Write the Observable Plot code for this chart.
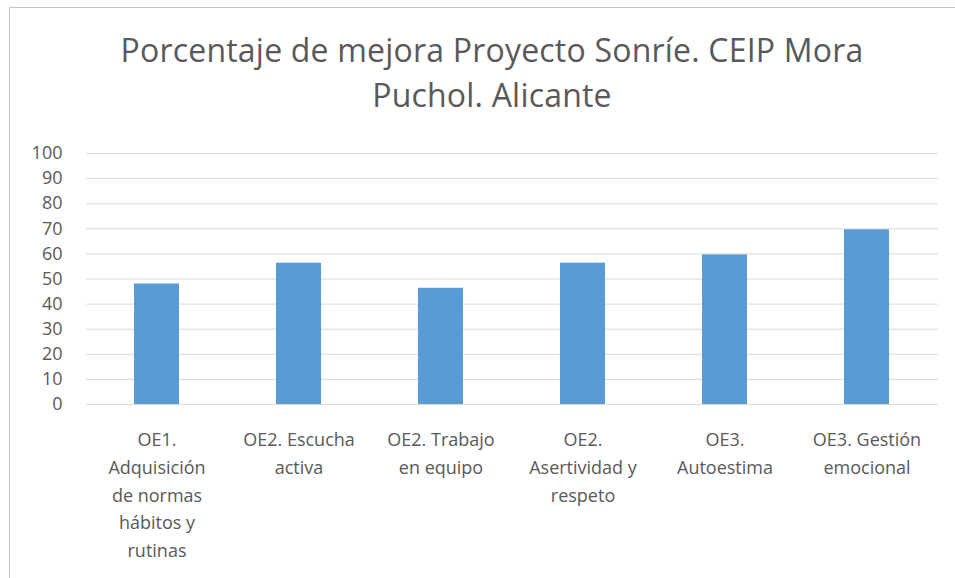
<!DOCTYPE html>
<html>
<head>
<meta charset="utf-8">
<script src="https://cdn.jsdelivr.net/npm/d3@7"></script>
<script src="https://cdn.jsdelivr.net/npm/@observablehq/plot@0.6"></script>
<style>
  html, body { margin: 0; padding: 0; background: #fff; }
  #wrap { position: relative; width: 955px; height: 578px; overflow: hidden; font-family: "Open Sans", sans-serif; }
  #frame { position: absolute; left: 9px; top: 7px; width: 966px; height: 620px; border: 1px solid #c6c6c6; box-sizing: border-box; }
  #title { position: absolute; left: 9px; width: 966px; top: 27px; text-align: center; font-size: 32px; line-height: 45px; color: #595959; letter-spacing: 0.2px; }
  #chart { position: absolute; left: 0; top: 0; }
</style>
</head>
<body>
<div id="wrap">
  <div id="frame"></div>
  <div id="chart"></div>
  <div id="title">Porcentaje de mejora Proyecto Sonríe. CEIP Mora<br>Puchol. Alicante</div>
</div>
<script>
const categories = [
  "OE1. Adquisición de normas hábitos y rutinas",
  "OE2. Escucha activa",
  "OE2. Trabajo en equipo",
  "OE2. Asertividad y respeto",
  "OE3. Autoestima",
  "OE3. Gestión emocional"
];
const values = [48, 56.3, 46.3, 56.3, 59.6, 69.6];
const tickLabels = [
  "OE1.\nAdquisición\nde normas\nhábitos y\nrutinas",
  "OE2. Escucha\nactiva",
  "OE2. Trabajo\nen equipo",
  "OE2.\nAsertividad y\nrespeto",
  "OE3.\nAutoestima",
  "OE3. Gestión\nemocional"
];
const yTicks = [0, 10, 20, 30, 40, 50, 60, 70, 80, 90, 100];

const data = categories.map((c, i) => ({category: c, value: values[i]}));
const labelOf = new Map(categories.map((c, i) => [c, tickLabels[i]]));

const chart = Plot.plot({
  width: 955,
  height: 578,
  marginLeft: 86,
  marginRight: 17,
  marginTop: 153,
  marginBottom: 174,
  style: {fontFamily: "'Open Sans', sans-serif", fontSize: "18px", color: "#595959", background: "transparent"},
  x: {type: "band", domain: categories, paddingInner: 0.68, paddingOuter: 0.34},
  y: {domain: [0, 100]},
  marks: [
    Plot.ruleY(yTicks, {stroke: "#d9d9d9", strokeWidth: 1}),
    Plot.barY(data, {x: "category", y: "value", fill: "#5b9bd5"}),
    Plot.axisY({ticks: yTicks, tickSize: 0, tickPadding: 24, label: null, fill: "#595959", fontSize: 18}),
    Plot.axisX({tickSize: 0, tickPadding: 22, label: null, tickFormat: d => labelOf.get(d), lineHeight: 1.54, fill: "#595959", fontSize: 18})
  ]
});
document.getElementById("chart").appendChild(chart);
</script>
</body>
</html>
